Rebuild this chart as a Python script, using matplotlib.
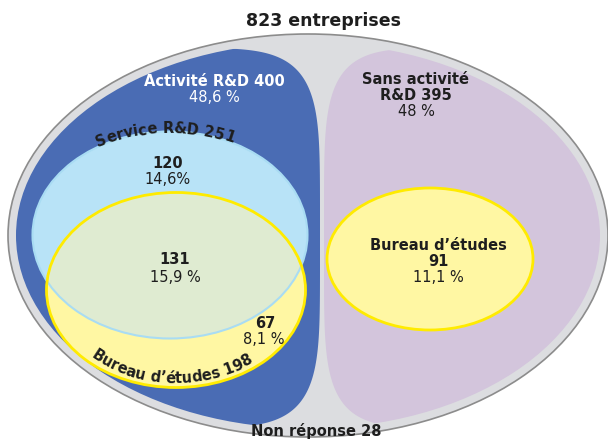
import numpy as np
import matplotlib
matplotlib.use('Agg')
import matplotlib.pyplot as plt
from matplotlib.patches import Ellipse, PathPatch
from matplotlib.path import Path
from matplotlib.font_manager import FontProperties
from matplotlib.textpath import text_to_path

# data
total = 823
rd_count, rd_pct = 400, "48,6 %"
nord_count, nord_pct = 395, "48 %"
service_count = 251
be_rd_count = 198
only_service, only_service_pct = 120, "14,6%"
both_count, both_pct = 131, "15,9 %"
only_be, only_be_pct = 67, "8,1 %"
be_nord, be_nord_pct = 91, "11,1 %"
no_answer = 28

grey = '#dcdde0'
blue = '#4a6cb4'
purple = '#d3c5dc'
lblue = '#b8e3f7'
yellow = '#fff7a3'
green = '#dfebd1'
txt = '#1e1e1e'

W, H = 608, 441
fig = plt.figure(figsize=(W / 100, H / 100), dpi=100)
ax = fig.add_axes([0, 0, 1, 1])
ax.set_xlim(0, W)
ax.set_ylim(H, 0)
ax.axis('off')


def superellipse(cx, cy, a, b, n=5, num=500):
    t = np.linspace(0, 2 * np.pi, num)
    c, s = np.cos(t), np.sin(t)
    x = cx + a * np.sign(c) * np.abs(c) ** (2 / n)
    y = cy + b * np.sign(s) * np.abs(s) ** (2 / n)
    return Path(np.column_stack([x, y]), closed=True)


def arc_text(s, cx, cy, a, b, theta_mid, direction, size, weight='bold'):
    # letters placed one by one along an ellipse
    prop = FontProperties(size=size, weight=weight)
    k = 100 / 72
    widths = [0.0] + [text_to_path.get_text_width_height_descent(s[:i], prop, ismath=False)[0] * k
                      for i in range(1, len(s) + 1)]
    tot = widths[-1]
    th = np.linspace(0, 2 * np.pi, 7201)
    xs = cx + a * np.cos(th)
    ys = cy + b * np.sin(th)
    L = np.concatenate([[0], np.cumsum(np.hypot(np.diff(xs), np.diff(ys)))])
    s_mid = np.interp(np.radians(theta_mid), th, L)
    for i, ch in enumerate(s):
        if ch == ' ':
            continue
        c = (widths[i] + widths[i + 1]) / 2 - tot / 2
        t = np.interp(s_mid + direction * c, L, th)
        x = cx + a * np.cos(t)
        y = cy + b * np.sin(t)
        dx = -a * np.sin(t) * direction
        dy = b * np.cos(t) * direction
        rot = np.degrees(np.arctan2(-dy, dx))
        ax.text(x, y, ch, rotation=rot, rotation_mode='anchor', ha='center',
                va='baseline', fontsize=size, fontweight=weight, color=txt)


# outer ellipse
ax.add_patch(Ellipse((308, 235.5), 600, 403, facecolor=grey, edgecolor='#8c8c8c', lw=1.2))
inner = Ellipse((308, 235.5), 584, 386, facecolor='none', edgecolor='none')
ax.add_patch(inner)

# R&D / no R&D blocks
p = PathPatch(superellipse(160, 238, 160, 190), facecolor=blue, edgecolor='none')
ax.add_patch(p)
p.set_clip_path(inner)
p = PathPatch(superellipse(472, 238, 148, 190), facecolor=purple, edgecolor='none')
ax.add_patch(p)
p.set_clip_path(inner)

# service R&D and bureau d'etudes
serv = Ellipse((170, 235), 275, 207, facecolor=lblue, edgecolor='none')
ax.add_patch(serv)
ax.add_patch(Ellipse((176, 290), 259, 195, facecolor=yellow, edgecolor='none'))
inter = Ellipse((176, 290), 259, 195, facecolor=green, edgecolor='none')
ax.add_patch(inter)
inter.set_clip_path(serv)
ax.add_patch(Ellipse((170, 235), 275, 207, facecolor='none', edgecolor='#a9dcf3', lw=1.5))
ax.add_patch(Ellipse((176, 290), 259, 195, facecolor='none', edgecolor='#ffeb00', lw=2))

ax.add_patch(Ellipse((430, 259), 206, 142, facecolor=yellow, edgecolor='#ffeb00', lw=2))

# labels
ax.text(324, 21, f"{total} entreprises", ha='center', va='center', fontsize=12.5,
        fontweight='bold', color=txt)
ax.text(214, 82, f"Activité R&D {rd_count}", ha='center', va='center', fontsize=10.5,
        fontweight='bold', color='white')
ax.text(214, 98, rd_pct, ha='center', va='center', fontsize=10.5, color='white')
ax.text(416, 79, "Sans activité", ha='center', va='center', fontsize=10.5,
        fontweight='bold', color=txt)
ax.text(416, 95, f"R&D {nord_count}", ha='center', va='center', fontsize=10.5,
        fontweight='bold', color=txt)
ax.text(416, 111, nord_pct, ha='center', va='center', fontsize=10.5, color=txt)

ax.text(168, 163, str(only_service), ha='center', va='center', fontsize=10.5,
        fontweight='bold', color=txt)
ax.text(168, 180, only_service_pct, ha='center', va='center', fontsize=10.5, color=txt)
ax.text(175, 260, str(both_count), ha='center', va='center', fontsize=10.5,
        fontweight='bold', color=txt)
ax.text(175, 277, both_pct, ha='center', va='center', fontsize=10.5, color=txt)
ax.text(265, 323, str(only_be), ha='center', va='center', fontsize=10.5,
        fontweight='bold', color=txt)
ax.text(264, 340, only_be_pct, ha='center', va='center', fontsize=10.5, color=txt)

ax.text(438, 245, "Bureau d’études", ha='center', va='center', fontsize=10.5,
        fontweight='bold', color=txt)
ax.text(438, 262, str(be_nord), ha='center', va='center', fontsize=10.5,
        fontweight='bold', color=txt)
ax.text(438, 278, be_nord_pct, ha='center', va='center', fontsize=10.5, color=txt)

ax.text(316, 431, f"Non réponse {no_answer}", ha='center', va='center', fontsize=10.5,
        fontweight='bold', color=txt)

arc_text(f"Service R&D {service_count}", 170, 235, 140, 102, 268, 1, 10.5)
arc_text(f"Bureau d’études {be_rd_count}", 176, 290, 123, 93, 92.3, -1, 10.5)

fig.savefig('out.png', dpi=100)
